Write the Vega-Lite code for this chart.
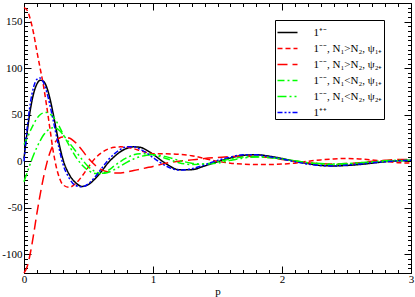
{
"$schema": "https://vega.github.io/schema/vega-lite/v6.json",
"width": 387, "height": 270,
"autosize": {"type": "none"},
"padding": {"left": 24, "top": 3, "right": 4, "bottom": 24},
"config": {"font": "Liberation Serif", "view": {"stroke": "black", "strokeWidth": 1},
  "axis": {"grid": false, "domainColor": "black", "tickColor": "black", "labelColor": "black", "titleColor": "black", "labelFontSize": 11, "titleFontSize": 11, "titleFontWeight": "normal", "labelOverlap": false, "labelFlush": false, "tickWidth": 1, "domainWidth": 1}},
"data": {"values": [
{"s":"a","p":0,"v":3},{"s":"a","p":0.025,"v":32},{"s":"a","p":0.05,"v":56},{"s":"a","p":0.075,"v":73},{"s":"a","p":0.1,"v":83},{"s":"a","p":0.125,"v":87},{"s":"a","p":0.15,"v":86},{"s":"a","p":0.175,"v":80},{"s":"a","p":0.2,"v":68},{"s":"a","p":0.225,"v":52},{"s":"a","p":0.25,"v":34},{"s":"a","p":0.275,"v":17},{"s":"a","p":0.3,"v":3},
{"s":"a","p":0.35,"v":-14},{"s":"a","p":0.4,"v":-23},{"s":"a","p":0.45,"v":-27},{"s":"a","p":0.5,"v":-25},{"s":"a","p":0.55,"v":-19},{"s":"a","p":0.6,"v":-11},{"s":"a","p":0.65,"v":-2},{"s":"a","p":0.7,"v":5},{"s":"a","p":0.75,"v":10.5},{"s":"a","p":0.8,"v":14},{"s":"a","p":0.85,"v":15.5},{"s":"a","p":0.9,"v":15},{"s":"a","p":0.95,"v":12},{"s":"a","p":1,"v":7.5},
{"s":"a","p":1.1,"v":-2.5},{"s":"a","p":1.2,"v":-9},{"s":"a","p":1.3,"v":-9},{"s":"a","p":1.4,"v":-5},{"s":"a","p":1.5,"v":-0.5},{"s":"a","p":1.6,"v":3.5},{"s":"a","p":1.7,"v":6.5},{"s":"a","p":1.8,"v":7},{"s":"a","p":1.9,"v":5.5},{"s":"a","p":2,"v":3},
{"s":"a","p":2.1,"v":0},{"s":"a","p":2.2,"v":-2.5},{"s":"a","p":2.3,"v":-4.5},{"s":"a","p":2.4,"v":-5},{"s":"a","p":2.5,"v":-4.5},{"s":"a","p":2.6,"v":-3.5},{"s":"a","p":2.7,"v":-2},{"s":"a","p":2.8,"v":-0.5},{"s":"a","p":2.9,"v":0.5},{"s":"a","p":3,"v":1},

{"s":"b","p":0,"v":165},{"s":"b","p":0.025,"v":162},{"s":"b","p":0.05,"v":152},{"s":"b","p":0.075,"v":137},{"s":"b","p":0.1,"v":118},{"s":"b","p":0.125,"v":100},{"s":"b","p":0.15,"v":82},{"s":"b","p":0.175,"v":60},{"s":"b","p":0.2,"v":36},{"s":"b","p":0.225,"v":12},{"s":"b","p":0.25,"v":-6},{"s":"b","p":0.275,"v":-18},{"s":"b","p":0.3,"v":-25},
{"s":"b","p":0.35,"v":-28},{"s":"b","p":0.4,"v":-24},{"s":"b","p":0.45,"v":-16},{"s":"b","p":0.5,"v":-6},{"s":"b","p":0.55,"v":3},{"s":"b","p":0.6,"v":9},{"s":"b","p":0.65,"v":13},{"s":"b","p":0.7,"v":15},{"s":"b","p":0.75,"v":15.5},{"s":"b","p":0.8,"v":15},{"s":"b","p":0.85,"v":13.5},{"s":"b","p":0.9,"v":11.5},{"s":"b","p":0.95,"v":9.5},{"s":"b","p":1,"v":8},
{"s":"b","p":1.1,"v":8},{"s":"b","p":1.2,"v":7.5},{"s":"b","p":1.3,"v":6},{"s":"b","p":1.4,"v":3},{"s":"b","p":1.5,"v":0},{"s":"b","p":1.6,"v":-2},{"s":"b","p":1.7,"v":-3},{"s":"b","p":1.8,"v":-3.5},{"s":"b","p":1.9,"v":-3.5},{"s":"b","p":2,"v":-3},
{"s":"b","p":2.1,"v":-2},{"s":"b","p":2.2,"v":0},{"s":"b","p":2.3,"v":1.5},{"s":"b","p":2.4,"v":2.5},{"s":"b","p":2.5,"v":3},{"s":"b","p":2.6,"v":2.5},{"s":"b","p":2.7,"v":1.5},{"s":"b","p":2.8,"v":0},{"s":"b","p":2.9,"v":-1.5},{"s":"b","p":3,"v":-2},

{"s":"c","p":0,"v":-120},{"s":"c","p":0.025,"v":-113},{"s":"c","p":0.05,"v":-98},{"s":"c","p":0.075,"v":-78},{"s":"c","p":0.1,"v":-56},{"s":"c","p":0.125,"v":-36},{"s":"c","p":0.15,"v":-18},{"s":"c","p":0.175,"v":-3},{"s":"c","p":0.2,"v":9},{"s":"c","p":0.225,"v":17},{"s":"c","p":0.25,"v":22},{"s":"c","p":0.275,"v":25},{"s":"c","p":0.3,"v":26},
{"s":"c","p":0.35,"v":25},{"s":"c","p":0.4,"v":20},{"s":"c","p":0.45,"v":12},{"s":"c","p":0.5,"v":3},{"s":"c","p":0.55,"v":-4},{"s":"c","p":0.6,"v":-9},{"s":"c","p":0.65,"v":-11.5},{"s":"c","p":0.7,"v":-12.5},{"s":"c","p":0.75,"v":-12.5},{"s":"c","p":0.8,"v":-11.5},{"s":"c","p":0.85,"v":-10},{"s":"c","p":0.9,"v":-8.5},{"s":"c","p":0.95,"v":-7},{"s":"c","p":1,"v":-5.5},
{"s":"c","p":1.1,"v":-2},{"s":"c","p":1.2,"v":0},{"s":"c","p":1.3,"v":1.5},{"s":"c","p":1.4,"v":3},{"s":"c","p":1.5,"v":4},{"s":"c","p":1.6,"v":5},{"s":"c","p":1.7,"v":5.5},{"s":"c","p":1.8,"v":5},{"s":"c","p":1.9,"v":4},{"s":"c","p":2,"v":2},
{"s":"c","p":2.1,"v":0},{"s":"c","p":2.2,"v":-1.5},{"s":"c","p":2.3,"v":-2.5},{"s":"c","p":2.4,"v":-3},{"s":"c","p":2.5,"v":-2.5},{"s":"c","p":2.6,"v":-1.5},{"s":"c","p":2.7,"v":0},{"s":"c","p":2.8,"v":1},{"s":"c","p":2.9,"v":2},{"s":"c","p":3,"v":2},

{"s":"d","p":0,"v":18},{"s":"d","p":0.025,"v":25},{"s":"d","p":0.05,"v":33},{"s":"d","p":0.075,"v":40},{"s":"d","p":0.1,"v":46},{"s":"d","p":0.125,"v":50},{"s":"d","p":0.15,"v":52},{"s":"d","p":0.175,"v":52.5},{"s":"d","p":0.2,"v":51},{"s":"d","p":0.225,"v":48},{"s":"d","p":0.25,"v":43},{"s":"d","p":0.275,"v":37},{"s":"d","p":0.3,"v":30},
{"s":"d","p":0.35,"v":17},{"s":"d","p":0.4,"v":5},{"s":"d","p":0.45,"v":-4},{"s":"d","p":0.5,"v":-10},{"s":"d","p":0.55,"v":-13},{"s":"d","p":0.6,"v":-13},{"s":"d","p":0.65,"v":-10},{"s":"d","p":0.7,"v":-5},{"s":"d","p":0.75,"v":0},{"s":"d","p":0.8,"v":4},{"s":"d","p":0.85,"v":7},{"s":"d","p":0.9,"v":8},{"s":"d","p":0.95,"v":8},{"s":"d","p":1,"v":7},
{"s":"d","p":1.1,"v":3},{"s":"d","p":1.2,"v":-1.5},{"s":"d","p":1.3,"v":-3.5},{"s":"d","p":1.4,"v":-3},{"s":"d","p":1.5,"v":-0.5},{"s":"d","p":1.6,"v":2.5},{"s":"d","p":1.7,"v":4.5},{"s":"d","p":1.8,"v":5},{"s":"d","p":1.9,"v":4},{"s":"d","p":2,"v":2.5},
{"s":"d","p":2.1,"v":0.5},{"s":"d","p":2.2,"v":-1.5},{"s":"d","p":2.3,"v":-3},{"s":"d","p":2.4,"v":-3.5},{"s":"d","p":2.5,"v":-3},{"s":"d","p":2.6,"v":-2},{"s":"d","p":2.7,"v":-1},{"s":"d","p":2.8,"v":0},{"s":"d","p":2.9,"v":0.5},{"s":"d","p":3,"v":1},

{"s":"e","p":0,"v":-22},{"s":"e","p":0.025,"v":-12},{"s":"e","p":0.05,"v":-2},{"s":"e","p":0.075,"v":7},{"s":"e","p":0.1,"v":15},{"s":"e","p":0.125,"v":22},{"s":"e","p":0.15,"v":28},{"s":"e","p":0.175,"v":32},{"s":"e","p":0.2,"v":35},{"s":"e","p":0.225,"v":36},{"s":"e","p":0.25,"v":35.5},{"s":"e","p":0.275,"v":33},{"s":"e","p":0.3,"v":29},
{"s":"e","p":0.35,"v":20},{"s":"e","p":0.4,"v":11},{"s":"e","p":0.45,"v":2},{"s":"e","p":0.5,"v":-6},{"s":"e","p":0.55,"v":-11},{"s":"e","p":0.6,"v":-13},{"s":"e","p":0.65,"v":-12},{"s":"e","p":0.7,"v":-9},{"s":"e","p":0.75,"v":-5},{"s":"e","p":0.8,"v":-1},{"s":"e","p":0.85,"v":2.5},{"s":"e","p":0.9,"v":5},{"s":"e","p":0.95,"v":6.5},{"s":"e","p":1,"v":7},
{"s":"e","p":1.1,"v":5},{"s":"e","p":1.2,"v":1},{"s":"e","p":1.3,"v":-2},{"s":"e","p":1.4,"v":-3},{"s":"e","p":1.5,"v":-2},{"s":"e","p":1.6,"v":1},{"s":"e","p":1.7,"v":3.5},{"s":"e","p":1.8,"v":4.5},{"s":"e","p":1.9,"v":4},{"s":"e","p":2,"v":2.5},
{"s":"e","p":2.1,"v":0.5},{"s":"e","p":2.2,"v":-1.5},{"s":"e","p":2.3,"v":-2.5},{"s":"e","p":2.4,"v":-3},{"s":"e","p":2.5,"v":-2.5},{"s":"e","p":2.6,"v":-1.5},{"s":"e","p":2.7,"v":-0.5},{"s":"e","p":2.8,"v":0.5},{"s":"e","p":2.9,"v":1},{"s":"e","p":3,"v":1},

{"s":"f","p":0,"v":0},{"s":"f","p":0.025,"v":36},{"s":"f","p":0.05,"v":63},{"s":"f","p":0.075,"v":80},{"s":"f","p":0.1,"v":88},{"s":"f","p":0.125,"v":89.5},{"s":"f","p":0.15,"v":85},{"s":"f","p":0.175,"v":75},{"s":"f","p":0.2,"v":61},{"s":"f","p":0.225,"v":45},{"s":"f","p":0.25,"v":28},{"s":"f","p":0.275,"v":12},{"s":"f","p":0.3,"v":-2},
{"s":"f","p":0.35,"v":-18},{"s":"f","p":0.4,"v":-26},{"s":"f","p":0.45,"v":-27.5},{"s":"f","p":0.5,"v":-24},{"s":"f","p":0.55,"v":-17},{"s":"f","p":0.6,"v":-8},{"s":"f","p":0.65,"v":1},{"s":"f","p":0.7,"v":8},{"s":"f","p":0.75,"v":13},{"s":"f","p":0.8,"v":15.5},{"s":"f","p":0.85,"v":15.5},{"s":"f","p":0.9,"v":13},{"s":"f","p":0.95,"v":9},{"s":"f","p":1,"v":4},
{"s":"f","p":1.1,"v":-5},{"s":"f","p":1.2,"v":-9.5},{"s":"f","p":1.3,"v":-8},{"s":"f","p":1.4,"v":-4},{"s":"f","p":1.5,"v":1},{"s":"f","p":1.6,"v":4.5},{"s":"f","p":1.7,"v":7},{"s":"f","p":1.8,"v":7},{"s":"f","p":1.9,"v":5},{"s":"f","p":2,"v":2.5},
{"s":"f","p":2.1,"v":-0.5},{"s":"f","p":2.2,"v":-3},{"s":"f","p":2.3,"v":-4.5},{"s":"f","p":2.4,"v":-5},{"s":"f","p":2.5,"v":-4},{"s":"f","p":2.6,"v":-3},{"s":"f","p":2.7,"v":-1.5},{"s":"f","p":2.8,"v":-0.5},{"s":"f","p":2.9,"v":0.5},{"s":"f","p":3,"v":1}
]},
"layer": [
 {"mark": {"type": "line", "strokeWidth": 1.5, "interpolate": "monotone"},
  "encoding": {
   "x": {"field": "p", "type": "quantitative", "scale": {"domain": [0, 3], "nice": false},
     "axis": {"orient": "bottom", "title": "p", "titlePadding": -2,
       "values": [0,0.1,0.2,0.3,0.4,0.5,0.6,0.7,0.8,0.9,1,1.1,1.2,1.3,1.4,1.5,1.6,1.7,1.8,1.9,2,2.1,2.2,2.3,2.4,2.5,2.6,2.7,2.8,2.9,3],
       "labelExpr": "abs(datum.value - round(datum.value)) < 0.001 ? '' + round(datum.value) : ''",
       "tickSize": {"condition": {"test": "abs(datum.value - round(datum.value)) < 0.001", "value": -7}, "value": -3.5},
       "labelPadding": 7}},
   "y": {"field": "v", "type": "quantitative", "scale": {"domain": [-120, 170], "nice": false, "zero": false},
     "axis": {"orient": "left", "title": null,
       "values": [-120,-115,-110,-105,-100,-95,-90,-85,-80,-75,-70,-65,-60,-55,-50,-45,-40,-35,-30,-25,-20,-15,-10,-5,0,5,10,15,20,25,30,35,40,45,50,55,60,65,70,75,80,85,90,95,100,105,110,115,120,125,130,135,140,145,150,155,160,165,170],
       "labelExpr": "datum.value % 50 == 0 ? '' + datum.value : ''",
       "tickSize": {"condition": {"test": "datum.value % 50 == 0", "value": -7}, "value": -3.5},
       "labelPadding": 9}},
   "color": {"field": "s", "type": "nominal",
     "scale": {"domain": ["a","b","c","d","e","f"], "range": ["#000000","#ff0000","#ff0000","#00ff00","#00ff00","#0000ff"]},
     "legend": {"orient": "none", "legendX": 251, "legendY": 17, "title": null, "symbolType": "stroke", "symbolSize": 400, "symbolStrokeWidth": 1.5, "labelFontSize": 11, "labelFont": "Liberation Serif", "labelColor": "black", "padding": 1.5, "rowPadding": -3.5, "labelOffset": 15, "fillColor": "white", "strokeColor": "black",
       "labelExpr": "datum.label == 'a' ? '1⁺⁻' : datum.label == 'b' ? '1⁻⁻, N₁>N₂, ψ₁₊' : datum.label == 'c' ? '1⁻⁻, N₁>N₂, ψ₂₊' : datum.label == 'd' ? '1⁻⁻, N₁<N₂, ψ₁₊' : datum.label == 'e' ? '1⁻⁻, N₁<N₂, ψ₂₊' : '1⁺⁺'"}},
   "strokeDash": {"field": "s", "type": "nominal",
     "scale": {"domain": ["a","b","c","d","e","f"], "range": [[1,0],[5,3],[10,5],[7,3,2,3],[9,3,2,3,2,3],[5,2,2,2,2,2]]},
     "legend": {"orient": "none", "legendX": 251, "legendY": 17, "title": null, "symbolType": "stroke", "symbolSize": 400, "symbolStrokeWidth": 1.5, "labelFontSize": 11, "labelFont": "Liberation Serif", "labelColor": "black", "padding": 1.5, "rowPadding": -3.5, "labelOffset": 15, "fillColor": "white", "strokeColor": "black",
       "labelExpr": "datum.label == 'a' ? '1⁺⁻' : datum.label == 'b' ? '1⁻⁻, N₁>N₂, ψ₁₊' : datum.label == 'c' ? '1⁻⁻, N₁>N₂, ψ₂₊' : datum.label == 'd' ? '1⁻⁻, N₁<N₂, ψ₁₊' : datum.label == 'e' ? '1⁻⁻, N₁<N₂, ψ₂₊' : '1⁺⁺'"}}
  }},
 {"mark": {"type": "line", "opacity": 0},
  "encoding": {
   "x": {"field": "p", "type": "quantitative",
     "axis": {"orient": "top", "title": null, "labels": false,
       "values": [0,0.1,0.2,0.3,0.4,0.5,0.6,0.7,0.8,0.9,1,1.1,1.2,1.3,1.4,1.5,1.6,1.7,1.8,1.9,2,2.1,2.2,2.3,2.4,2.5,2.6,2.7,2.8,2.9,3],
       "tickSize": {"condition": {"test": "abs(datum.value - round(datum.value)) < 0.001", "value": -7}, "value": -3.5}}},
   "y": {"field": "v", "type": "quantitative",
     "axis": {"orient": "right", "title": null, "labels": false,
       "values": [-120,-115,-110,-105,-100,-95,-90,-85,-80,-75,-70,-65,-60,-55,-50,-45,-40,-35,-30,-25,-20,-15,-10,-5,0,5,10,15,20,25,30,35,40,45,50,55,60,65,70,75,80,85,90,95,100,105,110,115,120,125,130,135,140,145,150,155,160,165,170],
       "tickSize": {"condition": {"test": "datum.value % 50 == 0", "value": -7}, "value": -3.5}}},
   "detail": {"field": "s"}
  }}
],
"resolve": {"axis": {"x": "independent", "y": "independent"}}
}
